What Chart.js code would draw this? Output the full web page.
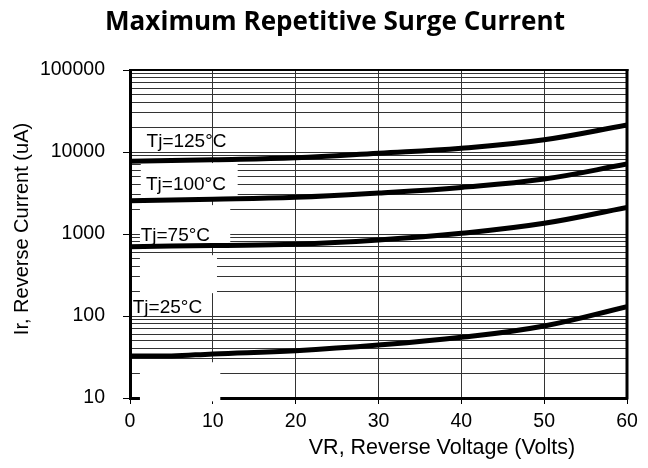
<!DOCTYPE html>
<html>
<head>
<meta charset="utf-8">
<script src="https://cdn.jsdelivr.net/npm/chart.js@4/dist/chart.umd.min.js"></script>
<style>
  html, body { margin: 0; padding: 0; background: #fff; }
  #wrap { width: 648px; height: 468px; }
</style>
</head>
<body>
<div id="wrap"><canvas id="c" width="648" height="468"></canvas></div>
<script>
// ---- data ----
const voltTicks = [0, 10, 20, 30, 40, 50, 60];
const yMajorTicks = [10, 100, 1000, 10000, 100000];
const yMinorMultipliers = [2, 3, 4, 5, 6, 7, 8, 9];

const volts = [0, 10, 20, 30, 40, 50, 60];
const volts25 = [0, 5, 10, 20, 30, 40, 50, 60];
const ir125 = [7700, 8050, 8500, 9650, 11100, 14100, 21300];
const ir100 = [2550, 2650, 2800, 3160, 3700, 4680, 7130];
const ir75  = [700, 725, 750, 845, 1020, 1350, 2110];
const ir25  = [32.5, 32.6, 34.5, 37.8, 44.2, 54.9, 75.6, 130];

const seriesLabels = ['Tj=125°C', 'Tj=100°C', 'Tj=75°C', 'Tj=25°C'];
const chartTitle = 'Maximum Repetitive Surge Current';
const xTitle = 'VR, Reverse Voltage (Volts)';
const yTitle = 'Ir, Reverse Current (uA)';

// label anchors (data units) and white label boxes (data units)
const labelAnchors = [
  {x: 2.0, y: 11600}, {x: 1.93, y: 3430}, {x: 1.29, y: 818}, {x: 0.33, y: 110}
];
const whiteBoxes = [
  {x0: 1.3, x1: 13.0, y0: 2740, y1: 7330},
  {x0: 1.2, x1: 12.1, y0: 752, y1: 2250},
  {x0: 1.2, x1: 10.5, y0: 190, y1: 552},
  {x0: 1.2, x1: 10.9, y0: 9.1, y1: 27.3}
];

// ---- build ----
const yTickValues = [];
yMajorTicks.forEach((m, i) => {
  yTickValues.push(m);
  if (i < yMajorTicks.length - 1) yMinorMultipliers.forEach(k => yTickValues.push(m * k));
});
const isMajor = v => yMajorTicks.includes(v);
const toXY = (xs, ys) => xs.map((x, i) => ({x, y: ys[i]}));

const FONT = "'Liberation Sans', Arial, sans-serif";
Chart.defaults.font.family = FONT;
Chart.defaults.color = '#000';

const mkDs = (label, data) => ({
  label, data,
  borderColor: '#000', backgroundColor: '#000',
  borderWidth: 5, pointRadius: 0, fill: false,
  tension: 0.4, borderCapStyle: 'butt'
});

const decor = {
  id: 'decor',
  beforeDatasetsDraw(chart) {
    const {ctx, scales: {x, y}} = chart;
    ctx.save();
    ctx.fillStyle = '#fff';
    whiteBoxes.forEach(b => {
      const px0 = x.getPixelForValue(b.x0), px1 = x.getPixelForValue(b.x1);
      const py0 = y.getPixelForValue(b.y1), py1 = y.getPixelForValue(b.y0);
      ctx.fillRect(px0, py0, px1 - px0, py1 - py0);
    });
    ctx.restore();
  },
  afterDatasetsDraw(chart) {
    const {ctx, chartArea: a, scales: {x, y}} = chart;
    ctx.save();
    ctx.fillStyle = '#000';
    ctx.font = '19px ' + FONT;
    ctx.textAlign = 'left';
    ctx.textBaseline = 'alphabetic';
    labelAnchors.forEach((p, i) => {
      ctx.fillText(seriesLabels[i], x.getPixelForValue(p.x), y.getPixelForValue(p.y));
    });
    // top and right frame
    ctx.strokeStyle = '#000';
    ctx.lineWidth = 2;
    ctx.beginPath(); ctx.moveTo(a.left, a.top); ctx.lineTo(a.right + 1.5, a.top); ctx.stroke();
    ctx.lineWidth = 3;
    ctx.beginPath(); ctx.moveTo(a.right, a.top - 1); ctx.lineTo(a.right, a.bottom + 1.5); ctx.stroke();
    ctx.restore();
  },
  afterDraw(chart) {
    const {ctx} = chart;
    ctx.save();
    ctx.fillStyle = '#000';
    // chart title
    ctx.font = "bold 100px 'Open Sans', " + FONT;
    const w100 = ctx.measureText(chartTitle).width;
    const size = 100 * 460 / w100;
    ctx.font = "bold " + size.toFixed(2) + "px 'Open Sans', " + FONT;
    ctx.textAlign = 'center';
    ctx.textBaseline = 'alphabetic';
    ctx.fillText(chartTitle, 335, 29.5);
    // x title
    ctx.font = '21.5px ' + FONT;
    ctx.fillText(xTitle, 442, 454);
    // y title
    ctx.font = '20px ' + FONT;
    ctx.translate(27.5, 229);
    ctx.rotate(-Math.PI / 2);
    ctx.fillText(yTitle, 0, 0);
    ctx.restore();
  }
};

new Chart(document.getElementById('c'), {
  type: 'line',
  data: {
    datasets: [
      mkDs(seriesLabels[0], toXY(volts, ir125)),
      mkDs(seriesLabels[1], toXY(volts, ir100)),
      mkDs(seriesLabels[2], toXY(volts, ir75)),
      mkDs(seriesLabels[3], toXY(volts25, ir25))
    ]
  },
  options: {
    responsive: false,
    animation: false,
    layout: { padding: { left: 0, top: 70, right: 21, bottom: 0 } },
    plugins: { legend: { display: false }, title: { display: false }, tooltip: { enabled: false } },
    scales: {
      x: {
        type: 'linear', min: 0, max: 60,
        afterBuildTicks: s => { s.ticks = voltTicks.map(v => ({value: v})); },
        afterFit: s => { s.height = 70; },
        ticks: { autoSkip: false, maxRotation: 0, padding: 6, font: { size: 19.5 }, color: '#000' },
        grid: { color: '#333', lineWidth: 1, tickLength: 6, tickColor: '#000' },
        border: { display: true, color: '#000', width: 3 }
      },
      y: {
        type: 'logarithmic', min: 10, max: 100000,
        afterBuildTicks: s => { s.ticks = yTickValues.map(v => ({value: v, major: isMajor(v)})); },
        afterFit: s => { s.width = 130; },
        ticks: {
          autoSkip: false, padding: 18, font: { size: 19.5 }, color: '#000',
          callback: v => isMajor(v) ? String(v) : ''
        },
        grid: {
          color: '#333', lineWidth: 1, tickLength: 7,
          tickColor: c => (c.tick && isMajor(c.tick.value)) ? '#000' : 'rgba(0,0,0,0)'
        },
        border: { display: true, color: '#000', width: 3 }
      }
    }
  },
  plugins: [decor]
});
</script>
</body>
</html>
